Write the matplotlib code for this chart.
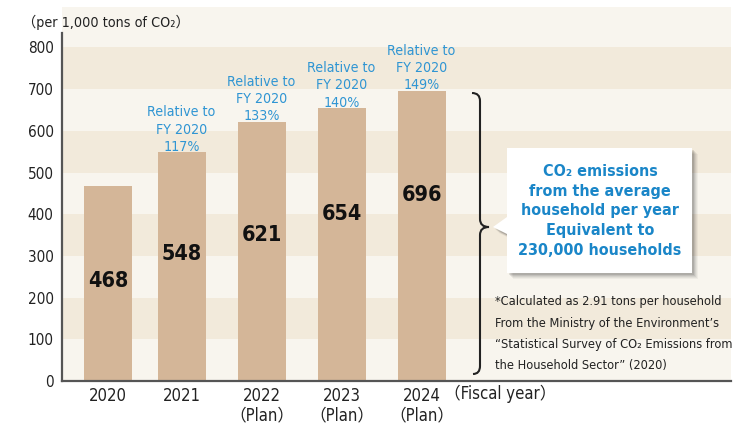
import matplotlib
matplotlib.use("Agg")
import matplotlib.pyplot as plt
from matplotlib import font_manager as fm
from matplotlib.patches import Polygon, PathPatch
from matplotlib.path import Path

# ---------------- data ----------------
years = ["2020", "2021", "2022\n（Plan）", "2023\n（Plan）", "2024\n（Plan）"]
emissions = [468, 548, 621, 654, 696]
relative_pct = [None, "117%", "133%", "140%", "149%"]
yticks = [0, 100, 200, 300, 400, 500, 600, 700, 800]
unit_label = "（per 1,000 tons of CO₂）"
xaxis_label = "（Fiscal year）"
callout_text = "CO₂ emissions\nfrom the average\nhousehold per year\nEquivalent to\n230,000 households"
note_lines = [
    "*Calculated as 2.91 tons per household",
    "From the Ministry of the Environment’s",
    "“Statistical Survey of CO₂ Emissions from",
    "the Household Sector” (2020)",
]

# ---------------- layout ----------------
bar_pos = [0, 0.92, 1.92, 2.92, 3.92]
value_label_y = [239, 304, 350, 401, 447]

names = {f.name for f in fm.fontManager.ttflist}
cond_stretch = {f.name for f in fm.fontManager.ttflist if f.stretch in ("condensed", "semi-condensed")}
if "Liberation Sans Narrow" in names:
    BASE = "Liberation Sans Narrow"; STRETCH = "normal"
elif "DejaVu Sans" in cond_stretch:
    BASE = "DejaVu Sans"; STRETCH = "condensed"
else:
    BASE = "Roboto"; STRETCH = "normal"
FAM = [BASE, "Noto Sans CJK JP", "DejaVu Sans"]
plt.rcParams["font.family"] = FAM
plt.rcParams["font.stretch"] = STRETCH

W, H = 740, 424
fig = plt.figure(figsize=(W / 100, H / 100), dpi=100)
fig.patch.set_facecolor("white")

L, R, B, T = 62, 731, 381, 7
ax = fig.add_axes([L / W, 1 - B / H, (R - L) / W, (B - T) / H])
ymax = (B - T) / 0.417
ax.set_ylim(0, ymax)
ax.set_xlim((L - 108) / 80, (R - 108) / 80)

light = "#f8f5ee"
dark = "#f2eadb"
ax.set_facecolor(light)
for lo in (100, 300, 500, 700):
    ax.axhspan(lo, lo + 100, color=dark, lw=0, zorder=0)

bar_color = "#d4b698"
ax.bar(bar_pos, emissions, width=0.6, color=bar_color, zorder=2)

for x, v, ly in zip(bar_pos, emissions, value_label_y):
    ax.text(x, ly, str(v), ha="center", va="center", fontsize=15.5,
            fontweight="bold", color="#111111", zorder=3)

blue = "#2f95d3"
for x, v, p in zip(bar_pos, emissions, relative_pct):
    if p is None:
        continue
    ax.annotate("Relative to\nFY 2020\n" + p, xy=(x, v), xytext=(0, -1),
                textcoords="offset points", ha="center", va="bottom",
                fontsize=10.2, color=blue, linespacing=1.3, zorder=3)

# axes styling
for s in ("top", "right"):
    ax.spines[s].set_visible(False)
ax.spines["left"].set_color("#555555")
ax.spines["left"].set_linewidth(1.6)
ax.spines["left"].set_bounds(0, (B - 33) / 0.417)
ax.spines["bottom"].set_color("#555555")
ax.spines["bottom"].set_linewidth(1.6)
ax.set_yticks(yticks)
ax.set_yticklabels([str(t) for t in yticks], fontsize=11, color="#222222")
ax.set_xticks(bar_pos)
ax.set_xticklabels(years, fontsize=12, color="#222222", linespacing=1.1)
ax.tick_params(axis="both", length=0)
ax.tick_params(axis="y", pad=6)
ax.tick_params(axis="x", pad=4)

def fx(x):
    return x / W

def fy(y):
    return 1 - y / H

fig.text(fx(22), fy(22), unit_label, ha="left", va="center", fontsize=10.3, color="#222222")
fig.text(fx(500), fy(394), xaxis_label, ha="center", va="center", fontsize=12, color="#222222")

# brace
pts = [(472, 93), (480, 93), (480, 101),
       (480, 219),
       (480, 227), (489, 227),
       (480, 227), (480, 235),
       (480, 366),
       (480, 374), (473, 374)]
codes = [Path.MOVETO, Path.CURVE3, Path.CURVE3, Path.LINETO,
         Path.CURVE3, Path.CURVE3, Path.CURVE3, Path.CURVE3,
         Path.LINETO, Path.CURVE3, Path.CURVE3]
brace = PathPatch(Path([(fx(a), fy(b)) for a, b in pts], codes), fill=False,
                  edgecolor="#222222", lw=1.5, transform=fig.transFigure, zorder=5)
fig.add_artist(brace)

# callout with shadow
poly = [(507, 148), (692, 148), (692, 273), (507, 273), (507, 234), (493, 227), (507, 217)]
for off, a in ((6, 0.04), (5, 0.05), (4, 0.06), (3, 0.08), (2, 0.1)):
    sh = Polygon([(fx(a_ + off), fy(b_ + off)) for a_, b_ in poly], closed=True,
                 facecolor="#000000", alpha=a, edgecolor="none",
                 transform=fig.transFigure, zorder=5)
    fig.add_artist(sh)
box = Polygon([(fx(a), fy(b)) for a, b in poly], closed=True, facecolor="white",
              edgecolor="none", transform=fig.transFigure, zorder=6)
fig.add_artist(box)
fig.text(fx(600), fy(211), callout_text, ha="center", va="center", fontsize=11.5,
         fontweight="bold", color="#1a86c8", linespacing=1.38, zorder=7)

for i, line in enumerate(note_lines):
    fig.text(fx(495), fy(302 + i * 21.3), line, ha="left", va="center",
             fontsize=9.2, color="#222222")

fig.savefig("out.png", dpi=100)
